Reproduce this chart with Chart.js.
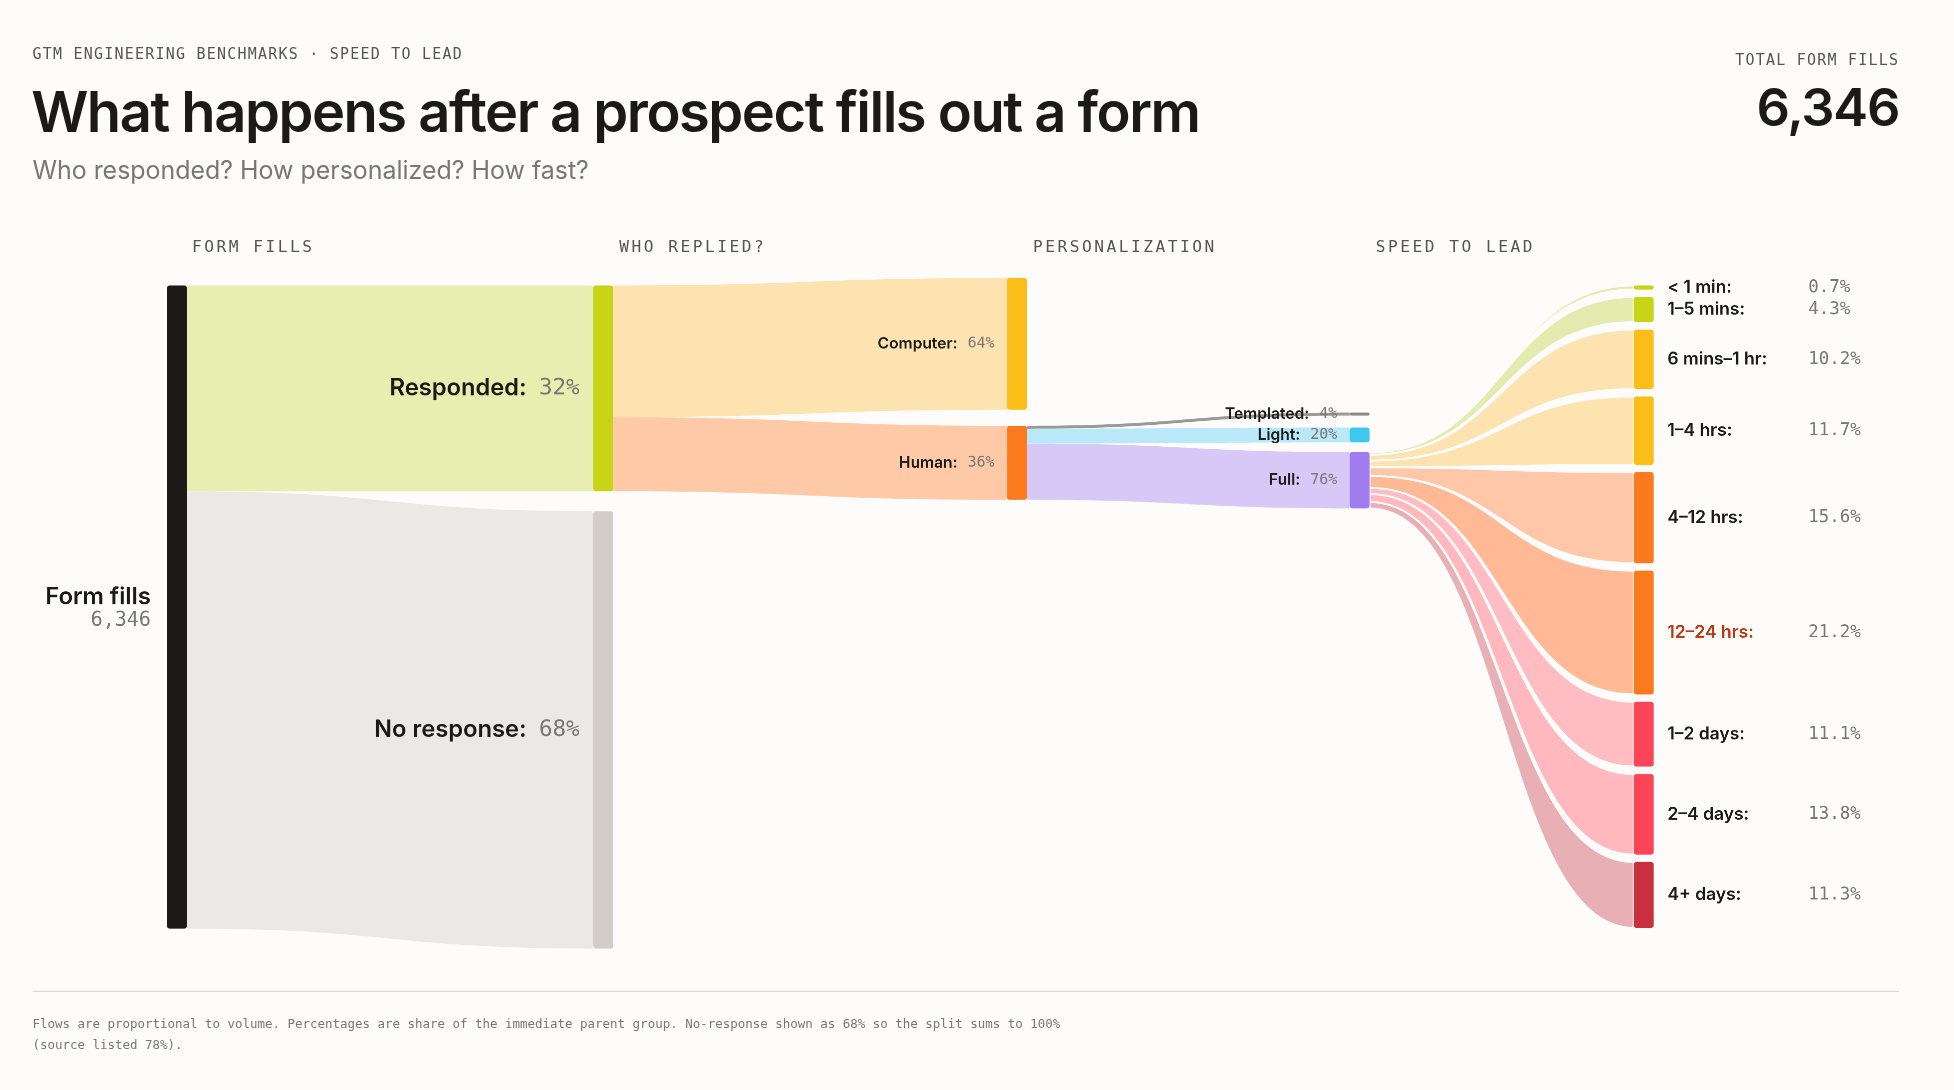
<!DOCTYPE html>
<html lang="en">
<head>
<meta charset="UTF-8">
<title>Speed to lead</title>
<script src="https://cdn.jsdelivr.net/npm/chart.js"></script>
<style>
  html, body { margin: 0; padding: 0; background: #fdfcfa; overflow: hidden; }
  #page { position: absolute; left: 0; top: 0; width: 1568px; height: 875px;
          transform: scale(1.2462); transform-origin: 0 0; font-family: Inter, "Noto Sans", sans-serif; color: #1c1a17; }
  .mono { font-family: "DejaVu Sans Mono", "Liberation Mono", monospace; }
  #kicker { position: absolute; left: 26px; top: 36px; font-size: 12px; letter-spacing: 1px; color: #555; }
  #title { position: absolute; left: 25px; top: 62px; font-size: 45px; font-weight: 600; letter-spacing: -1.2px; }
  #sub { position: absolute; left: 26px; top: 125px; font-size: 20px; color: #777; }
  #totLbl { position: absolute; right: 44px; top: 41px; font-size: 12px; letter-spacing: 1px; color: #555; }
  #totVal { position: absolute; right: 44px; top: 60px; font-size: 42px; font-weight: 600; letter-spacing: -1px; }
  .col { position: absolute; top: 190px; font-size: 13px; letter-spacing: 2px; color: #555; }
  #rule { position: absolute; left: 26px; top: 795px; width: 1498px; border-top: 1px solid #ddd; }
  #foot { position: absolute; left: 26px; top: 813px; font-size: 10px; line-height: 17px; color: #777; }
  #chartBox { position: absolute; left: 0; top: 0; width: 1568px; height: 875px; }
</style>
</head>
<body>
<div id="page">
  <div id="kicker" class="mono">GTM ENGINEERING BENCHMARKS · SPEED TO LEAD</div>
  <div id="title">What happens after a prospect fills out a form</div>
  <div id="sub">Who responded? How personalized? How fast?</div>
  <div id="totLbl" class="mono">TOTAL FORM FILLS</div>
  <div id="totVal">6,346</div>
  <div class="col mono" style="left:154px">FORM FILLS</div>
  <div class="col mono" style="left:497px">WHO REPLIED?</div>
  <div class="col mono" style="left:829px">PERSONALIZATION</div>
  <div class="col mono" style="left:1104px">SPEED TO LEAD</div>
  <div id="chartBox"><canvas id="chart"></canvas></div>
  <div id="rule"></div>
  <div id="foot" class="mono">Flows are proportional to volume. Percentages are share of the immediate parent group. No-response shown as 68% so the split sums to 100%<br>(source listed 78%).</div>
</div>
<script>
  // data
  const totalFills = 6346;
  const replyLabels = ['Responded', 'No response'];
  const replyPct = [32, 68];
  const personLabels = ['Computer', 'Human'];
  const personPct = [64, 36];
  const styleLabels = ['Templated', 'Light', 'Full'];
  const stylePct = [4, 20, 76];
  const speedLabels = ['< 1 min', '1\u20135 mins', '6 mins\u20131 hr', '1\u20134 hrs', '4\u201312 hrs', '12\u201324 hrs', '1\u20132 days', '2\u20134 days', '4+ days'];
  const speedPct = [0.7, 4.3, 10.2, 11.7, 15.6, 21.2, 11.1, 13.8, 11.3];

  // layout (x in 0..100 across plot, y in 0..100 = height of the form-fills node)
  const colX = [0, 28.67, 56.5, 79.55, 98.66];
  const nodeW = 1.34;
  const speedScale = 0.907;   // last column is rescaled to the full height
  const speedGap = 1.16;
  const speedNode = ['#c8d415', '#c8d415', '#fbbd17', '#fbbd17', '#fb7a1e', '#fb7a1e', '#fb4456', '#fb4456', '#c8303e'];
  const speedLink = ['#e3ecae', '#e3ecae', '#fde3b0', '#fde3b0', '#fec8a8', '#ffb995', '#ffbcc2', '#ffb8be', '#e8b0b5'];

  const mono = '"DejaVu Sans Mono", "Liberation Mono", monospace';
  const sans = 'Inter, "Noto Sans", sans-serif';

  function build() {
    const nodes = [], links = [];
    const resp = replyPct[0], nores = replyPct[1];
    nodes.push({ c: 0, y0: 0, y1: 100, color: '#1c1a17' });
    nodes.push({ c: 1, y0: 0, y1: resp, color: '#c8d415', label: replyLabels[0], pct: replyPct[0], big: true });
    nodes.push({ c: 1, y0: resp + 3.1, y1: resp + 3.1 + nores, color: '#d2cdc6', label: replyLabels[1], pct: replyPct[1], big: true });
    links.push({ c: 0, s0: 0, s1: resp, t0: 0, t1: resp, color: '#e8eeb0' });
    links.push({ c: 0, s0: resp, s1: 100, t0: resp + 3.1, t1: resp + 3.1 + nores, color: '#ebe9e5' });

    const comp = resp * personPct[0] / 100, hum = resp * personPct[1] / 100;
    const cStart = -1.16, hStart = cStart + comp + 2.5;
    nodes.push({ c: 2, y0: cStart, y1: cStart + comp, color: '#fbbd17', label: personLabels[0], pct: personPct[0] });
    nodes.push({ c: 2, y0: hStart, y1: hStart + hum, color: '#fb7a1e', label: personLabels[1], pct: personPct[1] });
    links.push({ c: 1, s0: 0, s1: comp, t0: cStart, t1: cStart + comp, color: '#fde3b0' });
    links.push({ c: 1, s0: comp, s1: resp, t0: hStart, t1: hStart + hum, color: '#fec9a6' });

    const starts = [19.77, 22.1, 25.9];
    const sNodeC = ['#8a8a8a', '#3ec8f0', '#a07cf0'], sLinkC = ['#9a9a9a', '#b9e8f8', '#d8c8f8'];
    let src = hStart, full = null;
    stylePct.forEach((p, i) => {
      const h = hum * p / 100;
      nodes.push({ c: 3, y0: starts[i], y1: starts[i] + h, color: sNodeC[i], label: styleLabels[i], pct: p });
      links.push({ c: 2, s0: src, s1: src + h, t0: starts[i], t1: starts[i] + h, color: sLinkC[i] });
      if (i === 2) full = { y0: starts[i], y1: starts[i] + h };
      src += h;
    });

    const sum = speedPct.reduce((a, b) => a + b, 0);
    let y = 0, s = full.y0;
    speedPct.forEach((p, i) => {
      const h = p * speedScale, sh = (full.y1 - full.y0) * p / sum;
      nodes.push({ c: 4, y0: y, y1: y + h, color: speedNode[i], label: speedLabels[i], pct: p, speed: true, hot: i === 5 });
      links.push({ c: 3, s0: s, s1: s + sh, t0: y, t1: y + h, color: speedLink[i], sep: true });
      y += h + speedGap; s += sh;
    });
    return { nodes, links };
  }

  const sankey = build();

  const sankeyPlugin = {
    id: 'sankey',
    afterDatasetsDraw(chart) {
      const ctx = chart.ctx, xs = chart.scales.x, ys = chart.scales.y;
      const X = v => xs.getPixelForValue(v), Y = v => ys.getPixelForValue(v);
      ctx.save();
      sankey.links.forEach(l => {
        const xa = X(colX[l.c] + nodeW), xb = X(colX[l.c + 1]), xm = (xa + xb) / 2;
        ctx.beginPath();
        ctx.moveTo(xa, Y(l.s0));
        ctx.bezierCurveTo(xm, Y(l.s0), xm, Y(l.t0), xb, Y(l.t0));
        ctx.lineTo(xb, Y(l.t1));
        ctx.bezierCurveTo(xm, Y(l.t1), xm, Y(l.s1), xa, Y(l.s1));
        ctx.closePath();
        ctx.fillStyle = l.color;
        ctx.fill();
        if (l.sep) { ctx.strokeStyle = '#fdfcfa'; ctx.lineWidth = 1.5; ctx.stroke(); }
      });
      sankey.nodes.forEach(n => {
        const xa = X(colX[n.c]), xb = X(colX[n.c] + nodeW);
        const ya = Y(n.y0), yb = Math.max(Y(n.y1), ya + 2);
        ctx.fillStyle = n.color;
        ctx.beginPath();
        ctx.roundRect(xa, ya, xb - xa, yb - ya, 2);
        ctx.fill();
        if (!n.label) return;
        const ym = (ya + yb) / 2;
        ctx.textBaseline = 'middle';
        if (n.speed) {
          ctx.textAlign = 'left';
          ctx.font = '600 14px ' + sans;
          ctx.fillStyle = n.hot ? '#c0360c' : '#1c1a17';
          ctx.fillText(n.label + ':', xb + 11, ym);
          ctx.font = '14px ' + mono;
          ctx.fillStyle = '#777';
          ctx.fillText(n.pct.toFixed(1) + '%', xb + 124, ym);
        } else {
          const big = n.big;
          ctx.textAlign = 'right';
          ctx.font = (big ? '18px ' : '12px ') + mono;
          ctx.fillStyle = '#777';
          const pctTxt = n.pct + '%';
          const right = xa - (big ? 11 : 10);
          ctx.fillText(pctTxt, right, ym);
          const w = ctx.measureText(pctTxt).width;
          ctx.font = (big ? '600 19px ' : '600 12.5px ') + sans;
          ctx.fillStyle = '#1c1a17';
          ctx.fillText(n.label + ':', right - w - (big ? 10 : 8), ym);
        }
      });
      // form fills label
      const fx = X(colX[0]) - 13, fy = Y(50);
      ctx.textAlign = 'right';
      ctx.font = '600 19px ' + sans;
      ctx.fillStyle = '#1c1a17';
      ctx.fillText('Form fills', fx, fy - 8);
      ctx.font = '16px ' + mono;
      ctx.fillStyle = '#777';
      ctx.fillText(totalFills.toLocaleString('en-US'), fx, fy + 11);
      ctx.restore();
    }
  };

  new Chart(document.getElementById('chart'), {
    type: 'scatter',
    data: { datasets: [{ data: [] }] },
    options: {
      responsive: true,
      maintainAspectRatio: false,
      animation: false,
      devicePixelRatio: 2.5,
      layout: { padding: { left: 134, right: 241, top: 229, bottom: 130 } },
      plugins: { legend: { display: false }, tooltip: { enabled: false } },
      scales: {
        x: { type: 'linear', min: 0, max: 100, display: false },
        y: { type: 'linear', min: 0, max: 100, reverse: true, display: false }
      }
    },
    plugins: [sankeyPlugin]
  });
</script>
</body>
</html>
